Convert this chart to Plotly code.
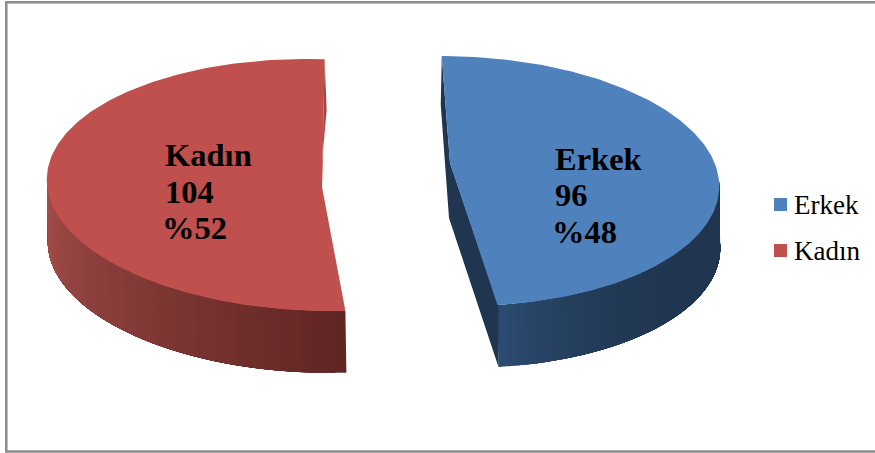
import numpy as np
import plotly.graph_objects as go

categories = ["Erkek", "Kadın"]
counts = [96, 104]
percents = ["%48", "%52"]
top_colors = ["#4F81BD", "#C0504D"]
cut_colors = ["#1F3550", "#A8413E"]

# layout of the exploded 3D wedges, in pixels
W, H = 875, 453
DEPTH, SHEAR = 62, 0.09
radii = [(266, 125), (271, 126)]
centers = [(453, 181), (318, 185)]
starts = [0.0, 176.6]
apexes = [(450, 163), (322, 187)]
side_dark = ["#20354F", "#5F2522"]
side_light = ["#2C4C72", "#A44D4A"]


def ell(i, deg):
    cx, cy = centers[i]
    rx, ry = radii[i]
    t = np.radians(np.asarray(deg, dtype=float))
    dy = -ry * np.cos(t)
    return cx + rx * np.sin(t) + SHEAR * dy, cy + dy


def mix(a, b, f):
    pa = [int(a[i:i + 2], 16) for i in (1, 3, 5)]
    pb = [int(b[i:i + 2], 16) for i in (1, 3, 5)]
    return "rgb(%d,%d,%d)" % tuple(round(p + (q - p) * f) for p, q in zip(pa, pb))


fig = go.Figure()


def poly(xs, ys, color, lw=0.0):
    fig.add_trace(go.Scatter(x=list(xs), y=list(ys), mode="lines", fill="toself",
                             fillcolor=color, line=dict(color=color, width=lw),
                             hoverinfo="skip", showlegend=False))


total = sum(counts)
for i, c in enumerate(counts):
    a0 = starts[i]
    a1 = a0 + 360.0 * c / total
    lo, hi = (90.0, a1) if i == 0 else (a0, 270.0)
    n = 40
    edges = np.linspace(lo, hi, n + 1)
    order = range(n) if i == 1 else range(n - 1, -1, -1)
    for j in order:
        # each strip runs under its neighbour, so no seams show through
        seg = np.linspace(edges[j], hi, 24) if i == 1 else np.linspace(lo, edges[j + 1], 24)
        x, y = ell(i, seg)
        xs = np.r_[x, (x + 1.0)[::-1]]
        ys = np.r_[y, (y + DEPTH)[::-1]]
        u = (j + 0.5) / n
        f = u if i == 1 else (u ** 4)
        poly(xs, ys, mix(side_dark[i], side_light[i], f))

    ax, ay = apexes[i]
    sx, sy = ell(i, a0)
    ex, ey = ell(i, a1)
    if i == 0:
        poly([sx, sx - 1, ax - 1, ex + 1, ex + 1, ax, sx],
             [sy, sy + 49, ay + 55, ey + 62, ey, ay, sy], cut_colors[i])
    else:
        poly([ex, ex + 2, ax - 1, ax, ex], [ey, ey + 51, ay - 15, ay, ey], cut_colors[i])

    arc = np.linspace(a0, a1, 200)
    x, y = ell(i, arc)
    poly(np.r_[ax, x, ax], np.r_[ay, y, ay], top_colors[i])

# key at the right: square swatch followed by the category name
key_x, key_text_x, key_y = 780.5, 792, [204.5, 250.5]
for i, name in enumerate(categories):
    fig.add_trace(go.Scatter(x=[key_x], y=[key_y[i]], mode="markers", name=name,
                             marker=dict(symbol="square", size=13, color=top_colors[i]),
                             hoverinfo="name", showlegend=False))
    fig.add_annotation(x=key_text_x, y=key_y[i], text=name, showarrow=False,
                       xanchor="left", yanchor="middle",
                       font=dict(family="Liberation Serif", size=27, color="#000000"))

label_pos = [(554, [159, 195, 232]), (164, [155, 192, 228])]
for i, name in enumerate(categories):
    lx, lys = label_pos[i]
    for txt, ly, dx in zip([name, str(counts[i]), percents[i]], lys, [-1, -1, -4]):
        fig.add_annotation(x=lx, y=ly, text="<b>%s</b>" % txt, showarrow=False,
                           xanchor="left", yanchor="middle", xshift=dx,
                           font=dict(family="Liberation Serif", size=32.5, color="#000000"))

fig.add_shape(type="rect", x0=6.3, y0=2.3, x1=890, y1=451.5,
              line=dict(color="#8C8C8C", width=2.5), layer="above")

fig.update_layout(
    width=W, height=H, margin=dict(l=0, r=0, t=0, b=0),
    paper_bgcolor="#FFFFFF", plot_bgcolor="#FFFFFF",
    xaxis=dict(range=[0, W], visible=False, fixedrange=True),
    yaxis=dict(range=[H, 0], visible=False, fixedrange=True),
    showlegend=False,
)
fig.write_html("out.html", config=dict(displayModeBar=False),
               post_script="document.body.style.margin='0';document.documentElement.style.overflow='hidden';")
